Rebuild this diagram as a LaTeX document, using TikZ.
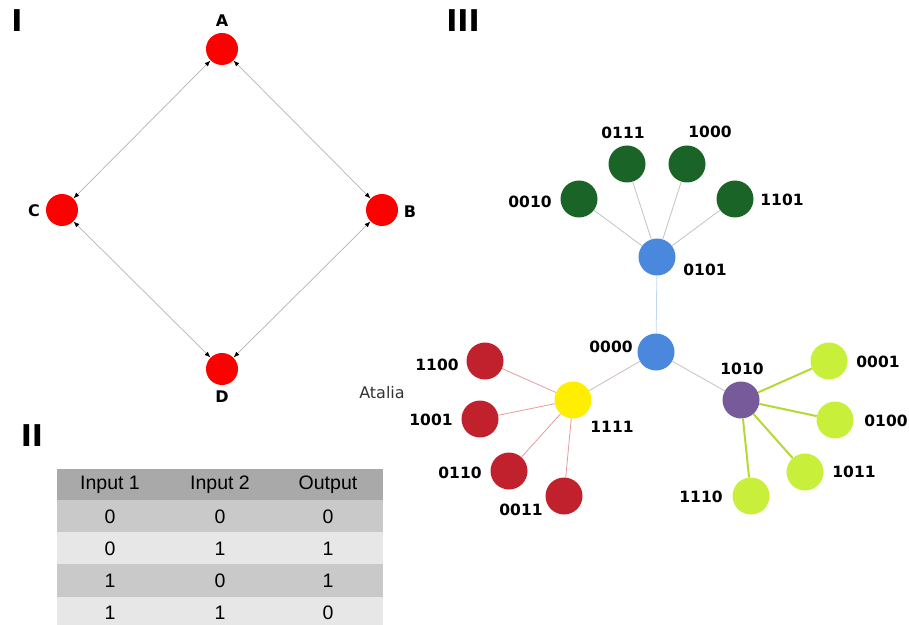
\documentclass[tikz,border=0pt]{standalone}
\usepackage{fontspec}
\setmainfont{DejaVu Sans}
\newfontfamily\tablefont{Liberation Sans}
\usetikzlibrary{arrows.meta}

\definecolor{hubblue}{HTML}{4A88DD}
\definecolor{leafgreen}{HTML}{1B6428}
\definecolor{leafred}{HTML}{C0212D}
\definecolor{hubyellow}{HTML}{FFEE00}
\definecolor{hubpurple}{HTML}{775A9A}
\definecolor{leaflime}{HTML}{C8F03A}
\definecolor{headgray}{HTML}{A9A9A9}
\definecolor{rowdark}{HTML}{C9C9C9}
\definecolor{rowlight}{HTML}{E7E7E7}

\tikzset{
	gatenode/.style={circle, fill=red, minimum size=32bp, inner sep=0pt},
	gatename/.style={font=\bfseries\fontsize{16bp}{19bp}\selectfont},
	bitnode/.style={circle, minimum size=37bp, inner sep=0pt},
	bitname/.style={font=\bfseries\fontsize{15.5bp}{18bp}\selectfont},
	panelname/.style={font=\bfseries\fontsize{30bp}{34bp}\selectfont},
	cellname/.style={font=\tablefont\fontsize{19.5bp}{22bp}\selectfont},
	>={Latex[length=6bp,width=4.5bp,black]},
	gateedge/.style={<->, draw=black!30, line width=0.7bp},
	bitedge/.style={line width=0.8bp}
}

\begin{document}
\begin{tikzpicture}[x=1bp,y=-1bp]
	\useasboundingbox (0,0) rectangle (909,625);
	% Panel names
	\node[panelname] (pI) at (17,21) {I};
	\node[panelname] (pII) at (32,436) {II};
	\node[panelname] (pIII) at (463,21) {III};

	% Panel I
	\node[gatenode] (A) at (222,49) {};
	\node[gatenode] (B) at (382,210) {};
	\node[gatenode] (C) at (62,210) {};
	\node[gatenode] (D) at (222,369) {};
	\node[gatename] (lA) at (222,21) {A};
	\node[gatename] (lB) at (410,212) {B};
	\node[gatename] (lC) at (34,211) {C};
	\node[gatename] (lD) at (222,397) {D};
	\draw[gateedge] (A) -- (C);
	\draw[gateedge] (A) -- (B);
	\draw[gateedge] (C) -- (D);
	\draw[gateedge] (B) -- (D);

	% Panel II
	\fill[headgray] (57,469) rectangle (383,500);
	\foreach \r/\top in {1/500,3/564}{
		\fill[rowdark] (57,\top) rectangle (383,{\top+33});
	}
	\foreach \r/\top in {2/532,4/597}{
		\fill[rowlight] (57,\top) rectangle (383,{\top+32});
	}
	\node[cellname] (h1) at (110,485) {Input 1};
	\node[cellname] (h2) at (220,485) {Input 2};
	\node[cellname] (h3) at (328,485) {Output};
	\foreach \r/\y/\a/\b/\c in {1/517/0/0/0, 2/549/0/1/1, 3/581/1/0/1, 4/613/1/1/0}{
		\node[cellname] (a\r) at (110,\y) {\a};
		\node[cellname] (b\r) at (220,\y) {\b};
		\node[cellname] (c\r) at (328,\y) {\c};
	}

	% Panel III
	\node[bitnode, fill=hubblue] (n0101) at (657,257) {};
	\node[bitnode, fill=hubblue] (n0000) at (656,352) {};
	\node[bitnode, fill=hubyellow] (n1111) at (573,400) {};
	\node[bitnode, fill=hubpurple] (n1010) at (741,400) {};
	\node[bitname] (l0101) at (705,270) {0101};
	\node[bitname] (l0000) at (611,347) {0000};
	\node[bitname] (l1111) at (612,427) {1111};
	\node[bitname] (l1010) at (742,369) {1010};
	\node[font=\fontsize{16bp}{19bp}\selectfont, text=black!80] (atalia) at (382,393) {Atalia};
	\draw[bitedge, draw=hubblue!35] (n0101) -- (n0000);
	\draw[bitedge, draw=leafred!25!gray!45] (n0000) -- (n1111);
	\draw[bitedge, draw=hubpurple!30!gray!45] (n0000) -- (n1010);
	% Upper group
	\foreach \b/\x/\y/\lx/\ly in {0010/579/199/530/202, 0111/627/164/623/133, 1000/687/164/710/132, 1101/735/199/782/200}{
		\node[bitnode, fill=leafgreen] (n\b) at (\x,\y) {};
		\node[bitname] (l\b) at (\lx,\ly) {\b};
		\draw[bitedge, draw=leafgreen!15!gray!45] (n0101) -- (n\b);
	}
	% Left group
	\foreach \b/\x/\y/\lx/\ly in {1100/485/361/437/365, 1001/480/419/431/420, 0110/509/471/460/473, 0011/564/496/521/510}{
		\node[bitnode, fill=leafred] (n\b) at (\x,\y) {};
		\node[bitname] (l\b) at (\lx,\ly) {\b};
		\draw[bitedge, draw=leafred!45!white] (n1111) -- (n\b);
	}
	% Right group
	\foreach \b/\x/\y/\lx/\ly in {0001/829/361/878/362, 0100/835/420/886/421, 1011/805/472/854/472, 1110/751/496/701/497}{
		\node[bitnode, fill=leaflime] (n\b) at (\x,\y) {};
		\node[bitname] (l\b) at (\lx,\ly) {\b};
		\draw[bitedge, line width=2bp, draw=leaflime!90!black] (n1010) -- (n\b);
	}
\end{tikzpicture}
\end{document}
